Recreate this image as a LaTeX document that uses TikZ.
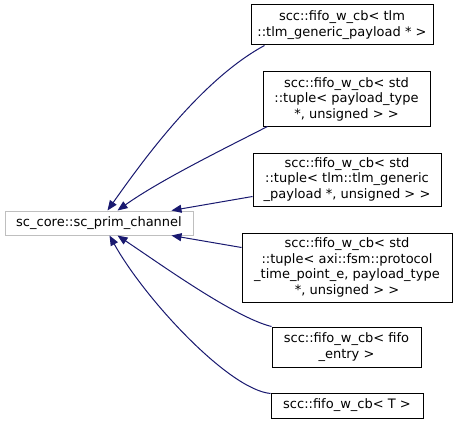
\documentclass[tikz,border=0pt]{standalone}
\usepackage{fontspec}
\setmainfont{DejaVu Sans}
\usepackage{tikz}
\usetikzlibrary{arrows.meta,positioning,calc}
\definecolor{edgeblue}{HTML}{191970}
\definecolor{basegray}{HTML}{BFBFBF}
\tikzset{
  classbox/.style={
    rectangle, draw=#1, fill=white, line width=1pt,
    font=\fontsize{13}{15.5}\selectfont, align=center,
    inner sep=0pt
  },
  classbox/.default=black,
  inherit/.style={
    -{Triangle[length=10pt,width=8pt]}, line width=1pt, color=edgeblue
  },
}
\begin{document}
\begin{tikzpicture}[x=1pt,y=-1pt]
\useasboundingbox[fill=white] (0,0) rectangle (457,425);

% Base class
\node[classbox=basegray, minimum width=188pt, minimum height=24pt] (base) at (99,223) {sc\_core::sc\_prim\_channel};

% Derived classes
\node[classbox, minimum width=182pt, minimum height=40pt] (fifo-tlm) at (342,25)
  {scc::fifo\_w\_cb< tlm\\::tlm\_generic\_payload * >};
\node[classbox, minimum width=167pt, minimum height=54pt] (fifo-payload) at (346.5,99)
  {scc::fifo\_w\_cb< std\\::tuple< payload\_type\\*, unsigned > >};
\node[classbox, minimum width=188pt, minimum height=53pt] (fifo-tlmtuple) at (347,179.5)
  {scc::fifo\_w\_cb< std\\::tuple< tlm::tlm\_generic\\\_payload *, unsigned > >};
\node[classbox, minimum width=210pt, minimum height=69pt] (fifo-axi) at (347,267.5)
  {scc::fifo\_w\_cb< std\\::tuple< axi::fsm::protocol\\\_time\_point\_e, payload\_type\\*, unsigned > >};
\node[classbox, minimum width=149pt, minimum height=40pt] (fifo-entry) at (346.5,347)
  {scc::fifo\_w\_cb< fifo\\\_entry >};
\node[classbox, minimum width=152pt, minimum height=25pt] (fifo-t) at (347,405.5)
  {scc::fifo\_w\_cb< T >};

% Inheritance arrows
\draw[inherit] ([xshift=14pt]fifo-tlm.south west) .. controls +(-65,35) and +(32,-45) .. ([xshift=103pt]base.north west);
\draw[inherit] ([xshift=5pt]fifo-payload.south west) .. controls +(-43,22) and +(42,-30) .. ([xshift=113pt]base.north west);
\draw[inherit] ([yshift=10pt]fifo-tlmtuple.south west) -- ([xshift=167pt]base.north west);
\draw[inherit] ([yshift=-15pt]fifo-axi.north west) -- ([xshift=167pt]base.south west);
\draw[inherit] (fifo-entry.north west) .. controls +(-37,-9) and +(42,28) .. ([xshift=113pt]base.south west);
\draw[inherit] ([yshift=-1pt]fifo-t.north west) .. controls +(-42,-4) and +(35,63) .. ([xshift=105pt]base.south west);

\end{tikzpicture}
\end{document}
